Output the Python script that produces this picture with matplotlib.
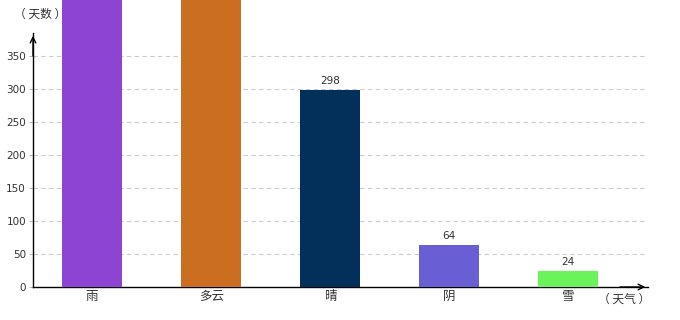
import matplotlib
matplotlib.use("Agg")
from matplotlib import pyplot as plt

plt.rcParams['font.family'] = ['Noto Sans CJK SC', 'DejaVu Sans']

weather = ['雨', '多云', '晴', '阴', '雪']
days = [480, 470, 298, 64, 24]
show_label = [False, False, True, True, True]
colors = ['#8e44d2', '#cc6e22', '#02305a', '#6a5ed4', '#6cf25a']
yticks = [0, 50, 100, 150, 200, 250, 300, 350]

fig = plt.figure(figsize=(6.8, 3.2), dpi=100)
ax = fig.add_axes([33 / 680, 33 / 320, 615 / 680, 254 / 320])

x = list(range(len(weather)))
bars = ax.bar(x, days, width=0.5, color=colors, zorder=3)
for b in bars:
    b.set_clip_on(False)

for xi, v, show in zip(x, days, show_label):
    if show:
        ax.text(xi, v + 6, str(v), ha='center', va='bottom', fontsize=7.5,
                color='#333333', family='DejaVu Sans')

ax.set_xlim(-0.496, 4.67)
ax.set_ylim(0, 385)
ax.set_xticks(x)
ax.set_xticklabels(weather, fontsize=9, color='#333333')
ax.set_yticks(yticks)
ax.set_yticklabels([str(t) for t in yticks], fontsize=7.5, color='#333333',
                   family='DejaVu Sans')
ax.tick_params(axis='x', length=0, pad=2)
ax.tick_params(axis='y', length=3, width=0.6, color='#aaaaaa', pad=2)
ax.yaxis.grid(True, linestyle=(0, (4, 3)), color='#cccccc', linewidth=0.8, zorder=0)

for s in ['top', 'right']:
    ax.spines[s].set_visible(False)
ax.spines['left'].set_linewidth(1)
ax.spines['bottom'].set_linewidth(1)

# arrows on axis ends
ax.annotate('', xy=(0, 1.0), xycoords='axes fraction', xytext=(0, 0.9),
            arrowprops=dict(arrowstyle='->', lw=1, color='black'))
ax.annotate('', xy=(1.0, 0), xycoords='axes fraction', xytext=(0.95, 0),
            arrowprops=dict(arrowstyle='->', lw=1, color='black'))

fig.text(40 / 680, 1 - 14 / 320, '（ 天数 ）', ha='center', va='center', fontsize=8.5, color='#333333')
fig.text(624 / 680, 1 - 299 / 320, '（ 天气 ）', ha='center', va='center', fontsize=8.5, color='#333333')

fig.savefig('out.png', dpi=100)
